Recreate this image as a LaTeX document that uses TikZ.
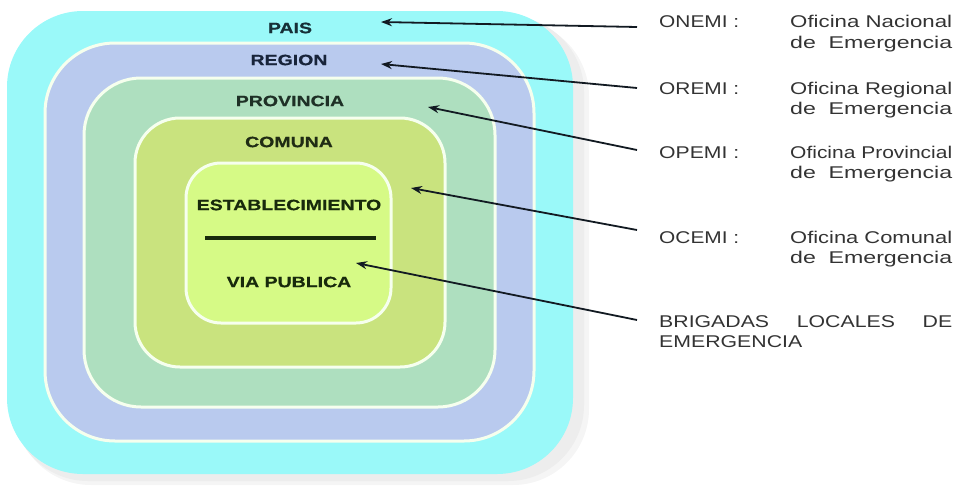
\documentclass[tikz,border=0pt]{standalone}
\usepackage{fontspec}
\usepackage{graphicx}
\setmainfont{Liberation Sans}
\newfontfamily\boxfont[FakeStretch=1.3,FakeBold=0.6]{Liberation Sans Bold}
\newfontfamily\rfont{Liberation Sans}
\usetikzlibrary{arrows.meta}
\newcommand{\fitw}[2]{\resizebox{#1}{\height}{#2}}
\definecolor{cpais}{HTML}{9AF9F9}
\definecolor{cregion}{HTML}{B9CAEE}
\definecolor{cprov}{HTML}{AEDFBF}
\definecolor{ccomuna}{HTML}{C9E37E}
\definecolor{cestab}{HTML}{D6FA86}
\definecolor{cborder}{HTML}{F6FFEE}
\definecolor{tpais}{HTML}{163038}
\definecolor{tregion}{HTML}{18243A}
\definecolor{tprov}{HTML}{1E3026}
\definecolor{tcom}{HTML}{202C14}
\definecolor{testab}{HTML}{182A0C}
\definecolor{rtext}{HTML}{333333}
\definecolor{arrc}{HTML}{121A22}
\tikzset{
  ring/.style={rectangle, inner sep=0pt, draw=cborder, line width=3pt},
  blabel/.style={inner sep=0pt, font=\boxfont\fontsize{15}{17}\selectfont},
  rlabel/.style={inner sep=0pt, anchor=base west, text=rtext, font=\rfont\fontsize{17}{20}\selectfont},
  arr/.style={draw=arrc, line width=1.8pt, -{Stealth[length=11pt,width=8pt]}},
}
\begin{document}
\begin{tikzpicture}[x=1pt,y=-1pt]
\useasboundingbox (0,0) rectangle (959,485);
% shadow
\fill[black!4, rounded corners=76pt] (15,20) rectangle (589,485);
\fill[black!7, rounded corners=76pt] (12,16) rectangle (584,481);
% boxes
\node[rectangle, inner sep=0pt, fill=cpais, rounded corners=76pt, minimum width=566pt, minimum height=463pt] (pais) at (290,242.5) {};
\node[ring, fill=cregion, rounded corners=70pt, minimum width=489pt, minimum height=398pt] (region) at (289.5,242) {};
\node[ring, fill=cprov, rounded corners=57pt, minimum width=411pt, minimum height=329pt] (prov) at (289.5,242.5) {};
\node[ring, fill=ccomuna, rounded corners=45pt, minimum width=310pt, minimum height=249pt] (comuna) at (290,242.5) {};
\node[ring, fill=cestab, rounded corners=35pt, minimum width=205pt, minimum height=160pt] (estab) at (288.5,243) {};
% box labels
\node[blabel, text=tpais] (lpais) at (290,28) {PAIS};
\node[blabel, text=tregion] (lregion) at (289,60) {REGION};
\node[blabel, text=tprov] (lprov) at (290,101) {PROVINCIA};
\node[blabel, text=tcom] (lcomuna) at (289,142) {COMUNA};
\node[blabel, text=testab] (lestab) at (289,205) {ESTABLECIMIENTO};
\node[blabel, text=testab] (lvia) at (289,282) {VIA PUBLICA};
\coordinate (sepa) at (205,238);
\coordinate (sepb) at (376,238);
\draw[line width=4pt, draw=testab] (sepa) -- (sepb);
% right texts
\node[rlabel] (onemi) at (659,27) {\fitw{80pt}{ONEMI :}};
\node[rlabel] (onemi1) at (790,27) {\fitw{162pt}{Oficina Nacional}};
\node[rlabel] (onemi2) at (790,48) {\fitw{162pt}{de\hspace{0.55em}Emergencia}};
\node[rlabel] (oremi) at (659,94) {\fitw{80pt}{OREMI :}};
\node[rlabel] (oremi1) at (790,94) {\fitw{162pt}{Oficina Regional}};
\node[rlabel] (oremi2) at (790,114) {\fitw{162pt}{de\hspace{0.55em}Emergencia}};
\node[rlabel] (opemi) at (659,158) {\fitw{80pt}{OPEMI :}};
\node[rlabel] (opemi1) at (790,158) {\fitw{162pt}{Oficina Provincial}};
\node[rlabel] (opemi2) at (790,178) {\fitw{162pt}{de\hspace{0.55em}Emergencia}};
\node[rlabel] (ocemi) at (659,243) {\fitw{80pt}{OCEMI :}};
\node[rlabel] (ocemi1) at (790,243) {\fitw{162pt}{Oficina Comunal}};
\node[rlabel] (ocemi2) at (790,263) {\fitw{162pt}{de\hspace{0.55em}Emergencia}};
\node[rlabel] (brig1) at (659,327) {\fitw{293pt}{BRIGADAS\hspace{1.3em}LOCALES\hspace{1.3em}DE}};
\node[rlabel] (brig2) at (659,347) {\fitw{143pt}{EMERGENCIA}};
% arrows
\coordinate (s1) at (637,27);  \coordinate (t1) at (381,22);
\coordinate (s2) at (637,88);  \coordinate (t2) at (381,64);
\coordinate (s3) at (637,150); \coordinate (t3) at (428,107);
\coordinate (s4) at (637,230); \coordinate (t4) at (411,188);
\coordinate (s5) at (637,320); \coordinate (t5) at (356,263);
\draw[arr] (s1) -- (t1);
\draw[arr] (s2) -- (t2);
\draw[arr] (s3) -- (t3);
\draw[arr] (s4) -- (t4);
\draw[arr] (s5) -- (t5);
\end{tikzpicture}
\end{document}
